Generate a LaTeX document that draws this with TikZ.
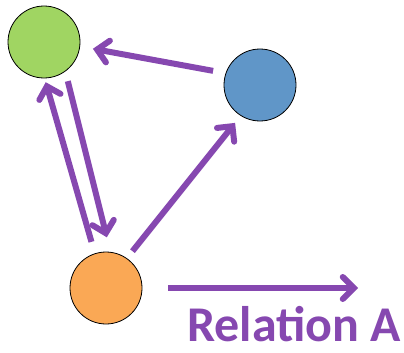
\documentclass[tikz,border=0pt]{standalone}
\usepackage{fontspec}
\setmainfont{Carlito}
\usepackage{tikz}
\usetikzlibrary{arrows.meta,positioning,calc}
\definecolor{relpurple}{RGB}{134,72,176}
\definecolor{dotgreen}{RGB}{160,213,98}
\definecolor{dotblue}{RGB}{96,150,200}
\definecolor{dotorange}{RGB}{250,168,85}

\begin{document}
\begin{tikzpicture}[x=1pt,y=-1pt,
  dot/.style={circle,draw=black,line width=0.8pt,minimum size=72pt,inner sep=0pt},
  rel/.style={draw=relpurple,line width=6pt,-{Straight Barb[length=11pt,width=22pt,line cap=round]}}]
\useasboundingbox (0,0) rectangle (404,353);
\node[dot,fill=dotgreen] (g) at (44,42) {};
\node[dot,fill=dotblue] (b) at (260,85) {};
\node[dot,fill=dotorange] (o) at (106,288) {};
\draw[rel,shorten <=12.7pt,shorten >=13pt] (b.161) -- (g.-7);
\draw[rel,shorten <=10pt,shorten >=15pt] (g.-54) -- (o.83);
\draw[rel,shorten <=12pt,shorten >=4pt] (o.108) -- (g.-89);
\draw[rel,shorten <=9pt,shorten >=9pt] (o.55) -- (b.238);
\coordinate (legstart) at (168,288);
\coordinate (legend) at (358,288);
\draw[rel] (legstart) -- (legend);
\node[anchor=base east,inner sep=0pt,text=relpurple,font=\bfseries\fontsize{50}{52}\selectfont] (rellabel) at (401,341) {Relation A};
\end{tikzpicture}
\end{document}
